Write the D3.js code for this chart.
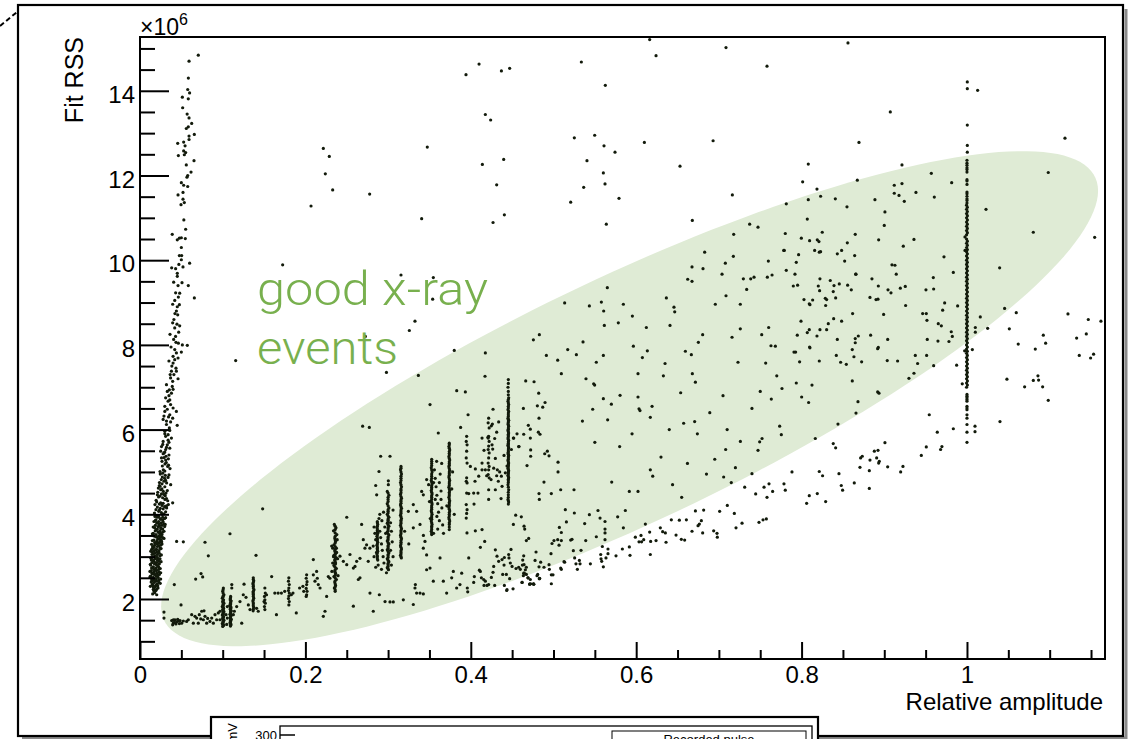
<!DOCTYPE html>
<html><head><meta charset="utf-8">
<script src="https://cdn.jsdelivr.net/npm/d3@7"></script>
<style>
html,body{margin:0;padding:0;background:#fff;}
svg{display:block;}
text{font-family:"Liberation Sans",Arial,Helvetica,sans-serif;}
</style></head><body>
<svg id="chart" width="1134" height="739"></svg>
<script>
// Fit RSS (in units of 1e6) versus relative pulse amplitude.

// Axis ticks
const xMajorTicks = [0, 0.2, 0.4, 0.6, 0.8, 1];
const xTickLabels = ["0", "0.2", "0.4", "0.6", "0.8", "1"];
const xMinorTicks = [0.05,0.1,0.15,0.25,0.3,0.35,0.45,0.5,0.55,0.65,0.7,0.75,0.85,0.9,0.95,1.05,1.1,1.15];
const yMajorTicks = [2, 4, 6, 8, 10, 12, 14];
const yTickLabels = ["2", "4", "6", "8", "10", "12", "14"];
const yMinorTicks = [1,1.5,2.5,3,3.5,4.5,5,5.5,6.5,7,7.5,8.5,9,9.5,10.5,11,11.5,12.5,13,13.5,14.5,15];

// Steep pile-up branch at low amplitude
const pileupPoints = [
[0.0705,14.84],[0.0593,14.70],[0.0577,14.03],[0.0512,13.85],[0.0584,13.81],[0.0516,13.60],[0.0593,13.36],[0.0625,13.23],[0.0584,13.15],[0.0560,13.11],
[0.0657,12.97],[0.0593,12.93],[0.0593,12.85],[0.0528,12.79],[0.0456,12.76],[0.0528,12.58],[0.0552,12.54],[0.0464,12.47],[0.0536,12.49],[0.0653,12.35],
[0.0617,12.08],[0.0577,12.00],[0.0568,11.96],[0.0500,11.83],[0.0528,11.77],[0.0577,11.74],[0.0460,11.54],[0.0520,11.44],[0.0536,11.36],[0.0496,11.31],
[0.0552,10.73],[0.0390,10.61],[0.0500,10.53],[0.0476,10.52],[0.0451,10.48],[0.0548,10.51],[0.0476,10.11],[0.0504,10.11],[0.0500,10.01],[0.0600,9.93],
[0.0383,9.82],[0.0431,9.80],[0.0520,9.84],[0.0451,9.69],[0.0451,9.62],[0.0407,9.48],[0.0508,9.47],[0.0584,9.40],[0.0480,9.22],[0.0431,9.23],
[0.0657,9.11],[0.0464,9.13],[0.0395,8.96],[0.0476,8.95],[0.0451,8.90],[0.0423,8.74],[0.0456,8.71],[0.0395,8.52],[0.0447,8.49],[0.0480,8.45],
[0.0420,8.40],[0.0468,8.30],[0.0363,8.25],[0.0407,8.13],[0.0435,8.06],[0.0464,8.04],[0.0512,8.00],[0.0572,7.99],
[0.042,7.89],[0.044,7.81],[0.050,7.83],[0.040,7.73],[0.046,7.69],[0.040,7.57],[0.0435,7.45],[0.038,7.38],[0.044,7.38],[0.041,7.30],
[0.037,7.22],[0.0395,7.14],[0.032,7.06],[0.0355,6.94],[0.038,6.86],[0.031,6.75],[0.034,6.67],[0.037,6.59],[0.040,6.51],[0.044,6.43],
[0.030,6.43],[0.036,6.35],[0.0395,6.27],[0.028,6.24],[0.032,6.12],[0.0355,6.04],[0.030,5.96],[0.034,5.88],[0.038,5.80],[0.028,5.72],
[0.033,5.64],[0.036,5.56],[0.031,5.53],[0.026,5.60],[0.035,7.62],[0.039,7.02],[0.035,6.80],[0.033,6.48],[0.029,6.32],[0.037,6.18],
[0.031,5.84],[0.035,5.70],[0.029,5.45],[0.046,7.20],[0.045,6.10],
[0.025,5.49],[0.028,5.43],[0.0314,5.37],[0.0343,5.31],[0.0266,5.25],[0.0302,5.19],[0.0335,5.13],[0.0363,5.08],[0.0242,5.01],[0.0274,4.97],
[0.0306,4.92],[0.0339,4.87],[0.0258,4.82],[0.029,4.78],[0.0322,4.74],[0.0371,4.70],[0.0234,4.68],[0.0290,5.34],[0.0318,5.22],[0.0282,5.05],
[0.0298,4.85],[0.0266,4.72],
[0.0222,4.62],[0.025,4.58],[0.0282,4.54],[0.0314,4.50],[0.021,4.46],[0.0242,4.43],[0.0274,4.39],[0.0302,4.35],[0.0335,4.32],[0.0202,4.29],
[0.0234,4.24],[0.0266,4.21],[0.0298,4.18],[0.0322,4.15],[0.0193,4.11],[0.0226,4.07],[0.0258,4.04],[0.029,4.01],[0.0242,4.66],[0.0343,4.23],
[0.0181,4.23],[0.026,4.48],[0.028,4.26],[0.0245,4.14],[0.0305,4.44],[0.0395,4.27],
[0.0181,3.95],[0.0226,3.95],[0.0274,3.93],[0.021,3.93],[0.0242,3.90],[0.0298,3.90],[0.0274,3.87],[0.0193,3.87],[0.0169,3.83],[0.0226,3.83],
[0.0258,3.80],[0.0202,3.80],[0.0234,3.77],[0.0290,3.77],[0.0266,3.74],[0.0185,3.74],[0.0298,3.71],[0.0218,3.71],[0.0177,3.68],[0.0250,3.68],
[0.021,3.65],[0.0274,3.65],[0.0242,3.61],[0.0185,3.61],[0.0274,3.58],[0.0218,3.58],[0.0161,3.55],[0.0250,3.55],[0.0193,3.52],[0.0266,3.52],
[0.0226,3.49],[0.0169,3.49],[0.0258,3.46],[0.0202,3.46],[0.0290,3.43],[0.0234,3.43],[0.0169,3.39],[0.0258,3.39],[0.0202,3.36],[0.0242,3.36],
[0.0234,3.33],[0.0177,3.33],[0.0266,3.30],[0.0210,3.30],[0.0177,3.27],[0.0250,3.27],[0.021,3.24],[0.0153,3.24],[0.0242,3.20],[0.0153,3.20],
[0.0443,3.36],
[0.0141,3.17],[0.0200,3.17],[0.0169,3.14],[0.0230,3.14],[0.0202,3.11],[0.0145,3.11],[0.0234,3.08],[0.0180,3.08],[0.0145,3.05],[0.0210,3.05],
[0.0177,3.02],[0.0240,3.02],[0.021,2.98],[0.0150,2.98],[0.0242,2.95],[0.0185,2.95],[0.0137,2.92],[0.0210,2.92],[0.0169,2.89],[0.0230,2.89],
[0.0202,2.86],[0.0145,2.86],[0.0234,2.83],[0.0175,2.83],[0.0129,2.80],[0.0200,2.80],[0.0161,2.76],[0.0225,2.76],[0.0193,2.73],[0.0140,2.73],
[0.0226,2.70],[0.0170,2.70],[0.0137,2.67],[0.0200,2.67],[0.0169,2.64],[0.0230,2.64],[0.0202,2.61],[0.0145,2.61],[0.0234,2.58],[0.0175,2.58],
[0.0129,2.54],[0.0195,2.54],[0.0161,2.51],[0.0220,2.51],[0.0193,2.48],[0.0140,2.48],[0.0226,2.45],[0.0165,2.45],[0.0141,2.42],[0.0200,2.42],
[0.0173,2.39],[0.0230,2.39],[0.0206,2.35],[0.0150,2.35],[0.0153,2.32],[0.0190,2.32],[0.0185,2.29],[0.0160,2.29],[0.0218,2.26],[0.0170,2.26],
[0.0161,2.23],[0.0200,2.23],[0.0193,2.20],[0.0165,2.20],[0.0177,2.15],[0.0153,2.12],[0.0202,2.10],[0.0180,2.18],
[0.0125,2.30],[0.0215,2.31],[0.0245,2.37],[0.0135,2.40],[0.0185,2.44],[0.0250,2.47],[0.0120,2.52],[0.0210,2.56],[0.0150,2.59],[0.0250,2.62],
[0.0120,2.65],[0.0185,2.68],[0.0245,2.72],[0.0155,2.75],[0.0215,2.78],[0.0125,2.82],[0.0190,2.85],[0.0255,2.88],[0.0160,2.91],[0.0225,2.94],
[0.0130,2.97],[0.0195,3.00],[0.0258,3.04],[0.0160,3.07],[0.0220,3.10],[0.0130,3.13],[0.0190,3.16],[0.0255,3.19],[0.0170,3.22],[0.0228,3.26],
[0.0140,3.29],[0.0200,3.32],[0.0262,3.35],[0.0150,3.38],[0.0215,3.41],[0.0275,3.45],[0.0185,3.48],[0.0245,3.51],[0.0150,3.54],[0.0230,3.57],
[0.0290,3.60],[0.0195,3.63],[0.0255,3.66],[0.0160,3.70],[0.0235,3.73],[0.0305,3.76],[0.0210,3.79],[0.0280,3.82],[0.0185,3.85],[0.0250,3.88],
[0.0310,3.92],[0.0210,3.97],[0.0270,4.00],[0.0175,4.03],[0.0310,4.06],[0.0235,4.10],[0.0280,4.13],[0.0210,4.17],[0.0320,4.20],[0.0250,4.27],
[0.0195,4.33],[0.0320,4.37],[0.0225,4.41],[0.0290,4.47],[0.0215,4.52],[0.0330,4.56],[0.0265,4.60],[0.0300,4.65],[0.0235,4.75],[0.0310,4.80],
[0.0270,4.88],[0.0350,4.93],[0.0245,4.95],[0.0300,5.02],[0.0345,5.16],[0.0270,5.14],[0.0310,5.28],[0.0260,5.33],[0.0350,5.40],[0.0300,5.47],
[0.0320,5.58],[0.0275,5.65],[0.0340,5.75],[0.0300,5.90],[0.0360,5.98],[0.0320,6.20],[0.0345,6.30],[0.0300,6.55],[0.0360,6.70],[0.0330,6.90],
[0.0400,6.95],[0.0365,7.30],[0.0385,7.50],[0.0420,7.65],[0.0375,7.95],[0.0430,8.20],[0.0410,8.60],[0.0440,8.80],[0.0420,9.05],[0.0460,9.40],
[0.0470,9.90],[0.0500,10.30],[0.0530,10.95],[0.0520,11.60],[0.0560,12.25],[0.0545,12.70],[0.0570,13.45],[0.0600,13.95],[0.0585,14.30]
];

// Lower branch: single-photon events with vertical streaks
const lowBandPoints = [
[0.029,1.69],[0.029,1.55],[0.0383,1.49],[0.0403,1.43],[0.0423,1.51],[0.0443,1.46],[0.0464,1.48],[0.0484,1.49],[0.0504,1.43],[0.0395,1.39],
[0.0435,1.41],[0.0476,1.42],[0.0403,1.51],[0.0524,1.48],[0.0456,1.52],[0.0415,1.45],
[0.0584,1.51],[0.0625,1.63],[0.0645,1.43],[0.0685,1.55],[0.0717,1.63],[0.0746,1.71],[0.0766,1.51],[0.0786,1.59],[0.0806,1.43],[0.0846,1.47],
[0.0867,1.55],[0.0907,1.63],[0.0927,1.51],[0.0564,1.47],[0.0665,1.59],[0.0705,1.43],[0.0734,1.53],[0.0774,1.72],[0.0818,1.54],[0.0887,1.43],
[0.0947,1.67],[0.0967,1.51],
[0.1008,2.26],[0.1000,2.18],[0.1015,2.10],[0.1005,2.05],[0.0995,2.02],[0.1010,1.98],[0.1000,1.94],[0.1015,1.90],[0.1005,1.86],[0.0995,1.82],
[0.1010,1.78],[0.1000,1.74],[0.1015,1.70],[0.1005,1.66],[0.0995,1.62],[0.1010,1.58],[0.1000,1.54],[0.1015,1.50],[0.1005,1.46],[0.0995,1.42],
[0.1010,1.38],[0.1000,1.35],
[0.1096,2.06],[0.1090,2.00],[0.1102,1.95],[0.1094,1.90],[0.1086,1.85],[0.1100,1.80],[0.1092,1.76],[0.1104,1.72],[0.1096,1.68],[0.1088,1.64],
[0.1100,1.60],[0.1092,1.56],[0.1104,1.52],[0.1096,1.48],[0.1088,1.44],[0.1100,1.40],[0.1094,1.36],
[0.0967,1.71],[0.1056,1.82],[0.104,1.63],[0.1141,1.71],[0.1129,1.63],[0.111,2.34],[0.111,2.26],[0.1169,1.82],[0.1209,1.94],[0.1249,2.10],
[0.1258,2.35],[0.1282,2.04],[0.131,1.86],[0.133,1.75],[0.123,1.43],[0.1056,1.55],[0.1048,1.40],
[0.137,2.50],[0.1375,2.43],[0.1365,2.36],[0.137,2.30],[0.1378,2.22],[0.1368,2.15],[0.137,2.10],[0.1375,2.02],[0.1365,1.95],[0.137,1.88],
[0.1375,1.80],[0.1368,1.72],[0.141,1.78],[0.143,1.71],
[0.151,2.26],[0.1515,2.14],[0.1505,2.06],[0.151,1.98],[0.1515,1.90],[0.1505,1.82],[0.151,1.75],[0.150,1.94],[0.153,2.10],
[0.1592,2.53],[0.165,1.63],[0.163,2.14],[0.167,2.14],[0.171,2.14],[0.175,2.18],
[0.180,2.50],[0.1795,2.42],[0.1805,2.34],[0.180,2.26],[0.1795,2.20],[0.1805,2.14],[0.180,2.07],[0.1795,2.01],[0.1805,1.94],[0.180,1.86],
[0.183,2.10],[0.185,2.14],[0.189,1.67],[0.193,2.26],[0.197,2.30],[0.198,2.18],
[0.2015,2.57],[0.2010,2.49],[0.2020,2.41],[0.2015,2.34],[0.2010,2.25],[0.2020,2.18],[0.2015,2.10],[0.2010,2.06],
[0.2096,2.93],[0.2096,2.57],[0.2116,2.42],[0.2136,2.65],[0.2144,2.49],[0.2156,2.34],[0.2177,2.26],[0.2217,1.59],[0.2237,1.71],[0.2257,2.06],
[0.2277,2.53],[0.2297,2.49],
[0.2350,3.76],[0.2370,3.68],[0.2340,3.61],[0.2380,3.52],[0.2355,3.44],[0.2365,3.36],[0.2345,3.28],[0.2375,3.20],[0.2355,3.14],[0.2365,3.08],
[0.2345,3.03],[0.2375,2.97],[0.2355,2.91],[0.2365,2.85],[0.2345,2.79],[0.2375,2.72],[0.2355,2.66],[0.2365,2.60],[0.2345,2.53],[0.2375,2.46],
[0.2355,2.40],[0.2365,2.32],[0.2350,2.26],[0.2360,2.18],[0.2330,3.20],[0.2340,3.00],[0.2330,2.85],[0.2320,2.65],[0.2385,3.40],[0.2390,2.95],
[0.2395,2.55],[0.2318,3.25],[0.2378,3.10],
[0.25,3.93],[0.2418,3.01],[0.2459,2.89],[0.25,2.81],[0.2539,3.05],[0.258,2.73],[0.26,2.77],[0.262,2.89],[0.266,2.96],[0.268,3.76],
[0.27,3.40],[0.272,3.20],[0.274,3.28],[0.276,2.89],[0.278,3.20],[0.258,1.83],[0.266,2.50],[0.264,2.46],[0.2781,2.14],[0.2821,1.71],
[0.2894,2.10],[0.2963,1.94]
];

// Additional events along the cores of the vertical streaks
const streakCores = [
[0.1005,2.22],[0.1005,2.14],[0.1005,2.07],[0.1005,1.96],[0.1005,1.92],[0.1005,1.88],[0.1005,1.84],[0.1005,1.80],[0.1005,1.76],[0.1005,1.72],
[0.1005,1.68],[0.1005,1.64],[0.1005,1.60],[0.1005,1.56],[0.1005,1.52],[0.1005,1.48],[0.1005,1.44],[0.1005,1.40],[0.1005,1.37],
[0.1095,2.03],[0.1095,1.97],[0.1095,1.92],[0.1095,1.87],[0.1095,1.82],[0.1095,1.78],[0.1095,1.74],[0.1095,1.70],[0.1095,1.66],[0.1095,1.62],
[0.1095,1.58],[0.1095,1.54],[0.1095,1.50],[0.1095,1.46],[0.1095,1.42],[0.1095,1.38],
[0.137,2.46],[0.137,2.39],[0.137,2.33],[0.137,2.26],[0.137,2.18],[0.137,2.12],[0.137,2.06],[0.137,1.98],[0.137,1.91],[0.137,1.84],[0.137,1.76],
[0.2360,3.72],[0.2360,3.64],[0.2360,3.56],[0.2360,3.48],[0.2360,3.40],[0.2360,3.32],[0.2360,3.24],[0.2360,3.17],[0.2360,3.11],[0.2360,3.05],
[0.2360,3.00],[0.2360,2.94],[0.2360,2.88],[0.2360,2.82],[0.2360,2.75],[0.2360,2.69],[0.2360,2.63],[0.2360,2.56],[0.2360,2.50],[0.2360,2.43],
[0.2360,2.36],[0.2360,2.29],[0.2360,2.22],
[0.2870,3.80],[0.2870,3.72],[0.2870,3.65],[0.2870,3.58],[0.2870,3.51],[0.2870,3.44],[0.2870,3.37],[0.2870,3.30],[0.2870,3.23],[0.2870,3.16],
[0.2870,3.09],[0.2870,3.02],[0.2870,2.95],
[0.3000,4.50],[0.3000,4.40],[0.3000,4.30],[0.3000,4.20],[0.3000,4.11],[0.3000,4.03],[0.3000,3.96],[0.3000,3.89],[0.3000,3.82],[0.3000,3.75],
[0.3000,3.68],[0.3000,3.61],[0.3000,3.54],[0.3000,3.47],[0.3000,3.40],[0.3000,3.33],[0.3000,3.26],[0.3000,3.19],[0.3000,3.12],[0.3000,3.05],
[0.3000,2.98],[0.3000,2.91],[0.3000,2.84],[0.3000,2.77],[0.3000,2.71],
[0.3156,5.09],[0.3156,5.00],[0.3156,4.90],[0.3156,4.80],[0.3156,4.70],[0.3156,4.60],[0.3156,4.51],[0.3156,4.42],[0.3156,4.34],[0.3156,4.26],
[0.3156,4.18],[0.3156,4.10],[0.3156,4.02],[0.3156,3.94],[0.3156,3.86],[0.3156,3.78],[0.3156,3.70],[0.3156,3.62],[0.3156,3.54],[0.3156,3.46],
[0.3156,3.38],[0.3156,3.30],[0.3156,3.22],[0.3156,3.14],[0.3156,3.06],[0.3156,3.00],
[0.3527,5.25],[0.3527,5.15],[0.3527,5.05],[0.3527,4.95],[0.3527,4.85],[0.3527,4.76],[0.3527,4.68],[0.3527,4.60],[0.3527,4.52],[0.3527,4.44],
[0.3527,4.36],[0.3527,4.28],[0.3527,4.20],[0.3527,4.12],[0.3527,4.04],[0.3527,3.96],[0.3527,3.88],[0.3527,3.80],[0.3527,3.72],[0.3527,3.64],
[0.3527,3.56],
[0.3740,5.64],[0.3740,5.56],[0.3740,5.48],[0.3740,5.40],[0.3740,5.32],[0.3740,5.24],[0.3740,5.16],[0.3740,5.08],[0.3740,5.00],[0.3740,4.92],
[0.3740,4.84],[0.3740,4.76],[0.3740,4.68],[0.3740,4.60],[0.3740,4.52],[0.3740,4.44],[0.3740,4.36],[0.3740,4.28],[0.3740,4.20],[0.3740,4.12],
[0.3740,4.04],[0.3740,3.96],[0.3740,3.88],[0.3740,3.80],[0.3740,3.70],
[0.4454,7.09],[0.4454,6.90],[0.4454,6.82],[0.4454,6.63],[0.4454,6.51],[0.4454,6.39],[0.4454,6.31],[0.4454,6.24],[0.4454,6.17],[0.4454,6.11],
[0.4454,6.01],[0.4454,5.95],[0.4454,5.89],[0.4454,5.83],[0.4454,5.77],[0.4454,5.71],[0.4454,5.65],[0.4454,5.60],[0.4454,5.54],[0.4454,5.47],
[0.4454,5.42],[0.4454,5.36],[0.4454,5.30],[0.4454,5.24],[0.4454,5.19],[0.4454,5.12],[0.4454,5.06],[0.4454,5.00],[0.4454,4.95],[0.4454,4.89],
[0.4454,4.83],[0.4454,4.75],[0.4454,4.64],[0.4454,4.52],[0.4454,4.40],[0.4454,4.32]
];

// Dense groups between 0.28 and 0.45 relative amplitude
const clusterPoints = [
[0.2990,4.54],[0.3010,4.45],[0.3000,4.35],[0.2990,4.25],[0.3010,4.15],[0.3000,4.07],[0.2990,4.00],[0.3010,3.93],[0.3000,3.86],[0.2990,3.79],
[0.3010,3.72],[0.3000,3.65],[0.2990,3.58],[0.3010,3.51],[0.3000,3.44],[0.2990,3.37],[0.3010,3.30],[0.3000,3.23],[0.2990,3.16],[0.3010,3.09],
[0.3000,3.02],[0.2990,2.95],[0.3010,2.88],[0.3000,2.81],[0.2990,2.74],[0.3005,2.69],
[0.2870,3.83],[0.2875,3.76],[0.2865,3.69],[0.2870,3.62],[0.2875,3.55],[0.2865,3.48],[0.2870,3.41],[0.2875,3.34],[0.2865,3.27],[0.2870,3.20],
[0.2875,3.13],[0.2865,3.06],[0.2870,2.99],[0.2875,2.92],
[0.283,3.70],[0.284,3.55],[0.285,3.40],[0.286,3.10],[0.282,3.25],[0.290,3.60],[0.291,3.45],[0.292,3.30],[0.293,3.15],[0.294,3.00],
[0.295,2.85],[0.290,4.00],[0.2925,3.85],[0.296,3.70],[0.297,3.55],[0.303,3.80],[0.304,3.60],[0.305,3.35],[0.303,3.15],[0.306,3.00],
[0.304,2.80],[0.306,4.10],[0.288,2.80],[0.285,2.75],[0.292,2.70],[0.298,2.62],[0.283,3.00],[0.289,3.90],[0.2945,4.05],[0.285,4.68],
[0.2862,4.46],[0.289,5.01],[0.291,5.37],[0.3023,5.37],[0.3003,4.79],[0.3003,4.70],
[0.3156,5.13],[0.3150,5.05],[0.3162,4.95],[0.3156,4.85],[0.3150,4.75],[0.3162,4.65],[0.3156,4.56],[0.3150,4.47],[0.3162,4.38],[0.3156,4.30],
[0.3150,4.22],[0.3162,4.14],[0.3156,4.06],[0.3150,3.98],[0.3162,3.90],[0.3156,3.82],[0.3150,3.74],[0.3162,3.66],[0.3156,3.58],[0.3150,3.50],
[0.3162,3.42],[0.3156,3.34],[0.3150,3.26],[0.3162,3.18],[0.3156,3.10],[0.3150,3.03],[0.3160,2.97],
[0.3184,1.98],[0.3245,4.07],[0.3305,4.23],[0.3345,4.07],[0.3305,3.68],[0.3386,3.76],[0.3406,4.54],[0.3426,4.46],[0.3426,3.20],[0.3446,3.36],
[0.3466,3.04],[0.3305,1.87],[0.333,2.34],[0.3345,2.14],[0.3386,2.14],[0.3426,2.12],[0.3325,2.26],[0.3466,2.69],[0.3507,2.73],[0.3547,2.42],
[0.3628,2.97],[0.3769,2.50],[0.3789,2.65],[0.3829,2.26],[0.3869,2.34],[0.3668,2.42],[0.3708,2.14],[0.3890,2.61],[0.3023,1.93],[0.3063,1.93],
[0.3466,4.82],[0.3527,5.20],[0.3587,5.25],[0.3648,5.20],[0.3427,3.50],[0.3200,3.60],[0.3250,3.30],
[0.3527,5.30],[0.3522,5.10],[0.3532,5.00],[0.3527,4.90],[0.3522,4.80],[0.3532,4.72],[0.3527,4.64],[0.3522,4.56],[0.3532,4.48],[0.3527,4.40],
[0.3522,4.32],[0.3532,4.24],[0.3527,4.16],[0.3522,4.08],[0.3532,4.00],[0.3527,3.92],[0.3522,3.84],[0.3532,3.76],[0.3527,3.68],[0.3522,3.60],
[0.3527,3.52],
[0.356,5.05],[0.357,4.85],[0.358,4.65],[0.359,4.45],[0.360,4.25],[0.361,4.05],[0.362,3.85],[0.360,3.65],[0.363,4.95],[0.364,4.55],
[0.365,4.15],[0.366,3.75],[0.349,4.70],[0.350,4.30],[0.351,3.90],[0.355,4.75],[0.357,4.35],[0.359,3.95],[0.362,4.75],[0.364,4.35],
[0.367,3.55],[0.355,3.55],[0.3507,6.59],[0.3607,5.92],
[0.3740,5.68],[0.3735,5.60],[0.3745,5.52],[0.3740,5.44],[0.3735,5.36],[0.3745,5.28],[0.3740,5.20],[0.3735,5.12],[0.3745,5.04],[0.3740,4.96],
[0.3735,4.88],[0.3745,4.80],[0.3740,4.72],[0.3735,4.64],[0.3745,4.56],[0.3740,4.48],[0.3735,4.40],[0.3745,4.32],[0.3740,4.24],[0.3735,4.16],
[0.3745,4.08],[0.3740,4.00],[0.3735,3.92],[0.3745,3.84],[0.3740,3.76],[0.3740,3.64],
[0.378,5.00],[0.377,4.60],[0.371,4.20],[0.380,4.00],
[0.3950,5.84],[0.3945,5.72],[0.3955,5.64],[0.3950,5.49],[0.3945,5.33],[0.3955,5.21],[0.3950,4.86],[0.3945,4.78],[0.3955,4.74],[0.3950,4.50],
[0.3945,4.23],[0.3955,4.11],[0.3950,4.02],[0.3945,3.91],
[0.4216,6.27],[0.4210,6.16],[0.4222,6.04],[0.4216,5.84],[0.4210,5.80],[0.4222,5.72],[0.4216,5.61],[0.4210,5.53],[0.4222,5.45],[0.4216,5.33],
[0.4210,5.21],[0.4222,5.13],[0.4216,5.05],[0.4210,4.94],[0.4222,4.86],[0.4216,4.58],[0.4216,4.35],
[0.4454,7.18],[0.4450,7.00],[0.4458,6.75],[0.4454,6.71],[0.4450,6.67],[0.4458,6.59],[0.4454,6.55],[0.4450,6.47],[0.4458,6.43],[0.4454,6.35],
[0.4450,6.27],[0.4458,6.22],[0.4454,6.20],[0.4450,6.13],[0.4458,6.08],[0.4454,6.04],[0.4450,5.98],[0.4458,5.92],[0.4454,5.86],[0.4450,5.80],
[0.4458,5.74],[0.4454,5.68],[0.4450,5.63],[0.4458,5.57],[0.4454,5.50],[0.4450,5.45],[0.4458,5.39],[0.4454,5.33],[0.4450,5.27],[0.4458,5.21],
[0.4454,5.16],[0.4450,5.09],[0.4458,5.03],[0.4454,4.98],[0.4450,4.92],[0.4458,4.86],[0.4454,4.79],[0.4450,4.70],[0.4458,4.58],[0.4454,4.46],
[0.4450,4.35],[0.4458,4.29],[0.4454,4.24],
[0.4269,6.48],[0.4249,6.09],[0.4261,6.13],[0.4337,6.18],[0.4313,5.94],[0.4136,5.80],[0.4208,5.82],[0.416,5.51],[0.4289,5.79],[0.4257,5.64],
[0.4265,5.54],[0.4297,5.32],[0.4136,5.05],[0.4096,4.90],[0.4055,5.07],[0.3995,5.13],[0.4051,4.78],[0.3975,4.49],[0.4035,4.50],[0.4087,4.50],
[0.4039,4.24],[0.4297,4.58],[0.4366,4.37],[0.4378,4.66],[0.4321,5.05],[0.4277,5.09],[0.4245,4.82],[0.4192,4.91],[0.4313,4.91],[0.4349,5.00],
[0.4438,5.14],[0.4402,5.39],[0.4491,5.53],[0.4519,5.80],[0.4559,5.90],[0.4579,5.60],[0.4370,4.90],[0.4418,4.98],[0.4333,4.78],[0.4176,5.05],
[0.4136,5.21],
[0.4176,7.81],[0.4172,7.26],[0.3934,6.89],[0.3967,6.35],[0.4055,3.61],[0.3954,3.56],[0.4136,3.64],[0.4116,3.22],[0.4168,3.36],[0.3975,2.97],
[0.4297,3.16],[0.4317,3.01],[0.4337,2.89],[0.4277,2.77],[0.4249,2.51],[0.4269,2.63],[0.4289,2.32],[0.4216,2.34],[0.4176,2.42],[0.4156,2.46],
[0.4128,2.50],[0.416,2.32],[0.4196,2.32],[0.4104,2.68],[0.4116,2.65],[0.4043,2.53],[0.4035,2.39],[0.3958,2.26],[0.3963,2.17],
[0.464,3.02],[0.4628,2.92],[0.4624,2.80],[0.4644,2.81],[0.4672,2.75],[0.466,2.69],[0.4648,2.61],[0.4672,2.58],[0.4636,2.55],[0.4720,2.46],
[0.4757,2.36],[0.4801,2.55],[0.4833,2.49],[0.4809,2.58],[0.4579,2.75],[0.4599,2.70],[0.4547,2.72],[0.4499,2.77],[0.4478,2.85],[0.4486,3.17],
[0.4458,3.05],[0.4462,2.97],[0.4406,2.98],[0.4378,2.93],[0.4386,2.58],[0.4430,2.58],[0.4438,2.22],[0.4511,2.24],[0.4406,2.32],[0.4470,2.48],
[0.4402,2.80],[0.4434,2.20],
[0.4611,3.94],[0.4644,3.72],[0.4652,3.65],[0.4672,3.38],[0.47,3.43],[0.4543,3.98],[0.4515,3.76],[0.4789,3.11],[0.4777,2.91],[0.4845,2.87],
[0.4825,2.76],[0.4885,2.75],[0.4692,2.50],[0.462,2.39],[0.4712,2.35],[0.4761,2.35],[0.4829,2.48]
];

// Events at full relative amplitude
const unitAmplitudePoints = [
[1.0004,14.21],[1.0004,14.05],[1.0129,14.01],[1.0004,13.19],[1.0004,12.71],[1.0004,12.55],
[1.0,12.36],[1.0,12.29],[1.0,12.24],[1.0,12.18],[1.0,12.14],[1.0,12.08],[1.0,11.90],[1.0,11.87],[1.0,11.79],[1.0,11.61],
[1.0,11.57],[1.0,11.51],[1.0,11.45],[1.0,11.41],[1.0,11.35],
[0.9995,11.30],[1.0005,11.25],[0.9995,11.20],[1.0005,11.15],[0.9995,11.10],[1.0005,11.05],[0.9995,11.00],[1.0005,10.95],[0.9995,10.90],[1.0005,10.85],
[0.9995,10.80],[1.0005,10.75],[0.9995,10.70],[1.0005,10.65],[0.9995,10.60],[0.9976,10.55],[0.9995,10.50],[1.0005,10.45],[0.9995,10.40],[1.0005,10.35],
[0.9995,10.30],[0.9976,10.23],[1.0005,10.25],[0.9995,10.20],[1.0005,10.15],[0.9995,10.10],[1.0005,10.05],[0.9995,10.00],[1.0005,9.95],[0.9995,9.90],
[1.0005,9.85],[0.9995,9.80],[1.0005,9.75],[0.9995,9.70],[1.0005,9.65],[0.9995,9.60],[1.0005,9.55],[0.9995,9.50],[1.0005,9.45],[0.9995,9.40],
[1.0005,9.35],[0.9995,9.30],[1.0005,9.25],[0.9995,9.20],[1.0005,9.15],[0.9995,9.10],[1.0005,9.05],[0.9995,9.00],[1.0005,8.95],[0.9995,8.90],
[1.0005,8.85],[0.9995,8.80],[1.0005,8.75],[0.9995,8.70],[1.0005,8.65],[0.9995,8.60],[1.0005,8.55],[0.9995,8.50],[1.0005,8.45],[0.9995,8.40],
[1.0005,8.35],[0.9995,8.30],[1.0005,8.25],[0.9995,8.20],[1.0005,8.15],[0.9995,8.10],[1.0005,8.05],[0.9995,8.00],[1.0005,7.95],[0.9995,7.90],
[1.0005,7.85],[0.9995,7.80],[1.0005,7.75],[0.9995,7.70],[1.0005,7.65],[0.9995,7.60],[1.0005,7.55],[0.9995,7.50],[1.0005,7.45],[0.9995,7.40],
[1.0005,7.35],[0.9995,7.30],[1.0005,7.25],[0.9995,7.20],[1.0005,7.15],[0.9995,7.10],[1.0005,7.05],[0.9995,7.00],
[1.0,6.83],[1.0,6.79],[1.0,6.75],[1.0,6.71],[1.0,6.67],[1.0,6.55],[1.0,6.51],[1.0,6.47],[1.0,6.35],[1.0,6.27],[1.0,6.12],[1.0,5.94],[1.0,5.70]
];

// Diffuse events spread across the plane
const spreadPoints = [
[0.2217,12.64],[0.2289,12.45],[0.2241,12.04],[0.2330,11.66],[0.2068,11.28],[0.2777,11.56],[0.3474,12.67],[0.3406,10.98],[0.1725,9.89],[0.3156,9.65],
[0.3547,9.59],[0.3539,9.08],[0.3325,8.56],[0.3257,8.34],[0.2725,8.20],
[0.3942,14.38],[0.4100,14.63],[0.4370,14.47],[0.4470,14.53],[0.5337,14.68],[0.5627,14.13],[0.6163,15.21],[0.6240,14.83],[0.7086,15.02],[0.7582,14.58],
[0.4176,13.44],[0.4240,13.31],[0.5252,12.89],[0.5498,12.95],[0.5611,12.70],[0.5744,12.55],[0.6099,12.78],[0.6930,12.82],[0.5405,12.35],[0.4140,12.26],
[0.4398,12.38],[0.5603,12.06],[0.5623,11.80],[0.5365,11.72],[0.6530,12.22],[0.4313,11.78],[0.5208,11.37],[0.5792,11.46],[0.7163,11.54],[0.4406,11.07],
[0.4269,10.89],[0.5639,10.85],[0.6679,10.94],[0.7372,10.85],[0.7473,10.78],[0.7179,10.61],[0.6828,10.19],[0.7784,10.23],[0.7175,10.09],[0.7078,9.93],
[0.6675,9.84],[0.6808,9.80],[0.7598,9.98],[0.7038,9.67],[0.7296,9.56],[0.7385,9.56],[0.7425,9.60],[0.7586,9.60],[0.7643,9.65],[0.6623,9.55],
[0.6675,9.50],[0.7336,9.31],[0.5651,9.35],[0.5135,8.99],[0.5434,8.92],[0.5579,9.01],[0.5607,8.80],[0.5845,8.96],[0.6365,9.11],[0.6457,8.89],
[0.6466,8.78],[0.5954,8.68],[0.5784,8.52],[0.5615,8.46],[0.6123,8.41],[0.6409,8.46],[0.6957,8.96],[0.7086,9.16],[0.7259,8.96],[0.6804,8.24],
[0.6752,8.06],[0.7259,8.38],[0.7159,8.18],[0.7518,8.24],[0.7602,8.41],[0.7630,7.98],[0.7683,7.97],[0.4757,8.12],[0.4829,8.24],[0.5357,8.07],
[0.5966,7.97],
[0.8561,15.13],[0.9073,13.50],[1.1185,12.88],[0.8694,12.78],[0.8081,12.27],[0.9214,12.25],[0.9569,12.05],[0.9815,11.83],[0.8013,11.85],[0.8674,11.89],
[0.8186,11.68],[0.9121,11.77],[0.9214,11.81],[0.9121,11.58],[0.9178,11.53],[0.9242,11.39],[0.9383,11.60],[0.9605,11.49],[0.7815,11.33],[0.8081,11.43],
[0.8230,11.51],[0.8408,11.45],[0.8549,11.26],[0.8887,11.43],[0.9008,11.14],[0.9000,10.82],[1.0230,11.20],[0.8069,10.97],[0.7803,10.63],[0.7997,10.52],
[0.8097,10.46],[0.8190,10.48],[0.8210,10.44],[0.8250,10.66],[0.8553,10.41],[0.8649,10.61],[0.8932,10.48],[0.9359,10.49],[0.9230,10.33],[1.0802,10.66],
[1.1544,10.54],[0.7791,10.23],[0.7964,10.13],[0.7936,9.95],[0.7920,9.67],[0.7815,9.76],[0.8158,10.23],[0.8214,10.19],[0.8230,10.20],[0.8432,10.15],
[0.8484,10.23],[0.8521,9.98],[0.8642,10.11],[0.8658,9.67],[0.9093,9.89],[0.9129,9.88],[0.9145,9.67],[0.8851,9.56],[0.8222,9.56],[0.8347,9.52],
[0.8456,9.44],[0.8557,9.41],[0.8601,9.30],[0.7900,9.39],[0.7952,9.41],[0.8202,9.39],[0.8218,9.28],[0.8392,9.40],[0.8383,9.26],[0.8412,9.11],
[0.8287,9.10],[0.8303,9.07],[0.8029,9.07],[0.8134,9.06],[0.8093,8.97],[0.8101,8.95],[0.8291,8.93],[0.8928,9.39],[0.9045,9.30],[0.9081,9.23],
[0.9194,9.34],[0.9254,9.38],[0.8827,9.12],[0.8900,9.07],[0.8924,9.08],[0.8654,9.67],[0.8617,8.74],[0.9593,9.59],[0.9597,9.32],[0.9504,9.30],
[0.9722,10.08],[0.9835,9.71],[0.9258,8.93],[0.8992,8.72],[0.9464,8.74],[0.9508,8.74],[0.9516,8.58],[0.9706,8.82],[0.9730,8.99],[0.9887,8.92],
[0.9653,8.50],[0.9690,8.45],[0.9810,8.31],[0.9823,8.20],[0.9782,8.08],[0.9520,8.13],[0.9649,8.09],[0.9041,8.13],[0.8835,8.23],[0.8928,7.94],
[0.8649,8.15],[0.8649,8.05],[0.8686,8.21],[0.8432,8.13],[0.8303,8.36],[0.8222,8.36],[0.8186,8.21],[0.8093,8.36],[0.8069,8.29],[0.8097,7.95],
[0.7948,8.23],[0.7993,8.56],[0.8323,8.50],[0.8388,8.62],[0.8484,8.56],
[1.0161,8.66],[1.0101,8.41],[1.0101,8.30],[1.0250,8.39],[1.0455,8.86],[1.0395,9.82],[1.0596,8.76],[1.0512,8.38],[1.0620,8.02],[1.0923,8.23],
[1.0951,8.04],[1.1221,8.73],[1.1467,8.60],[1.1620,8.56],[1.1326,8.16],[1.1443,8.26],[1.0983,12.07],
[0.7908,7.83],[0.7928,7.83],[0.8101,7.93],[0.7976,7.60],[0.8214,7.62],[0.8420,7.75],[0.8472,7.59],[0.8541,7.54],[0.8613,7.89],[0.8633,7.72],
[0.8726,7.60],[0.8920,7.91],[0.9036,7.63],[0.9161,7.62],[0.9375,7.75],[0.9403,7.56],[0.9512,7.75],[0.9597,7.51],[0.9359,7.33],[0.9298,7.21],
[0.8613,7.15],[0.7936,7.10],[0.8126,7.05],[0.8001,6.77],[0.8085,6.64],[0.8682,6.66],[0.8920,6.89],[0.8936,6.86],[0.8658,6.39],[0.8440,6.13],
[0.8166,5.79],
[1.0065,7.89],[0.9972,7.86],[0.9943,7.08],[0.9875,7.52],[1.0826,7.90],[1.1358,7.75],[1.1495,7.69],[1.1531,7.78],[1.0483,7.19],[1.0802,7.16],
[1.0858,7.27],[1.0866,7.17],[1.0697,7.01],[1.0915,7.01],[1.0983,6.69],[1.0399,6.19],[1.0097,6.08],[1.0097,5.95],[0.9835,6.02],[0.9641,5.94],
[0.9544,6.35],[0.9508,5.59],[0.9448,5.39],[0.9681,5.53],[0.9697,5.60],
[0.4914,7.75],[0.5051,7.64],[0.5172,7.89],[0.5277,7.77],[0.5095,7.32],[0.5518,7.59],[0.5603,7.75],[0.5393,7.20],[0.5486,7.08],[0.5498,7.05],
[0.5603,6.73],[0.5474,6.48],[0.5655,6.23],[0.5805,6.81],[0.6135,7.86],[0.6075,7.70],[0.6022,7.32],[0.6349,7.56],[0.6595,7.85],[0.6667,7.77],
[0.6329,7.27],[0.6679,7.32],[0.6716,7.12],[0.6538,6.87],[0.6022,6.77],[0.6034,6.49],[0.6046,6.45],[0.6192,6.55],[0.6171,6.29],[0.7231,7.59],
[0.7566,7.57],[0.7700,7.27],[0.7763,6.97],[0.7634,6.72],[0.7735,6.08],[0.7755,5.88],[0.6574,6.15],[0.6707,6.19],[0.6740,5.90],[0.7260,5.72],
[0.7493,5.71],[0.7522,5.79],[0.7473,5.51],[0.7082,5.53],[0.6171,5.05],[0.6111,3.77],[0.5869,4.09],[0.5917,4.54],[0.5845,3.68],[0.5776,3.94],
[0.5704,4.76],[0.5623,3.83],[0.5623,3.65],[0.5623,3.56],[0.5623,3.40],[0.5538,4.09],[0.5563,3.91],[0.5518,3.47],[0.5434,3.99],[0.5377,3.78],
[0.5390,3.38],[0.5333,3.15],[0.5313,2.91],[0.5256,2.97],[0.5248,4.58],[0.5252,4.03],[0.5127,2.88],[0.4950,2.70],[0.4946,2.81],[0.4970,3.07],
[0.4982,3.31],[0.5006,3.38],[0.5051,3.40],[0.5067,3.27],[0.5095,3.38],[0.5071,3.69],[0.5095,3.57],[0.5143,4.11],[0.5156,3.82],[0.5055,5.23],
[0.5055,5.00],[0.5087,4.58],[0.4974,4.49],[0.5208,3.39],[0.5224,3.41],[0.5240,3.14],[0.4885,4.76],[0.4825,4.49],[0.4829,4.35],[0.4724,5.52],
[0.4724,5.37],[0.4680,5.15],[0.4720,5.80],[0.4720,6.01],[0.4640,5.89],[0.4696,6.10],[0.4636,6.50],[0.4664,7.15],[0.4765,7.13],[0.4821,6.86],
[0.4805,6.56],[0.4870,6.53],[0.4898,6.64],[0.4825,6.27],[0.4817,5.94],[0.4837,5.89],[0.4894,5.43],[0.4926,5.49],[0.4946,5.38],[0.4583,5.60],
[0.4515,5.80],[0.5917,3.23],[0.5925,3.03],[0.5833,3.18],[0.5756,3.02],[0.6065,3.35],
[0.6022,4.54],[0.6200,4.90],[0.6440,4.70],[0.6620,5.20],[0.6850,4.95],[0.6300,5.35],[0.6550,4.40],[0.6950,5.30],[0.7200,5.10],[0.6400,6.00],
[0.6890,6.40],[0.7100,6.00],[0.5800,5.60],[0.5500,5.70],[0.5950,5.90],[0.5350,6.20],[0.5700,6.60],[0.7400,6.50],[0.7500,6.90],[0.7050,6.80],
[0.1157,7.63],[0.298,7.35],[0.3366,7.28],[0.380,7.87],[0.383,6.92],[0.3877,6.05],[0.2692,6.08],[0.2773,6.05],[0.1483,4.13],[0.1088,3.54],
[0.0524,3.35],[0.0786,3.34],[0.0826,3.02],[0.1403,3.03],[0.0738,2.60],[0.0758,2.52],[0.0673,2.47],[0.0415,2.34],[0.0496,1.86]
];

// Lower-right band below the main population
const tailPoints = [
[0.4620,2.39],[0.4712,2.35],[0.4724,2.36],[0.4761,2.35],[0.4692,2.50],[0.4640,2.61],[0.4829,2.48],[0.4974,2.57],[0.4994,2.57],[0.4974,2.36],
[0.5087,2.73],[0.5095,2.70],[0.5135,2.87],[0.5272,2.83],[0.5289,2.70],[0.5321,2.83],[0.5446,2.83],[0.5571,3.05],[0.5575,2.95],[0.5583,2.89],
[0.5603,2.76],[0.5635,2.97],[0.5659,3.07],[0.5659,3.18],[0.5591,3.24],[0.5990,3.46],[0.6034,3.35],[0.6058,3.50],[0.6091,3.40],[0.6163,3.58],
[0.6175,3.36],[0.6240,3.38],[0.6292,3.68],[0.6320,3.59],[0.6353,3.56],[0.6361,3.34],[0.6425,3.87],[0.6482,3.51],[0.6522,3.86],[0.6546,3.41],
[0.6586,3.39],[0.6607,3.87],[0.6675,3.60],[0.6716,4.08],[0.6764,3.77],[0.6748,3.73],[0.6788,3.85],[0.6804,3.56],[0.6816,4.10],[0.6937,3.61],
[0.6977,3.55],[0.6981,3.46],[0.7009,4.07],[0.7102,4.21],[0.7187,4.02],[0.7207,3.68],[0.7280,3.79],[0.7312,4.64],[0.7445,4.48],[0.7485,3.81],
[0.7534,3.87],[0.7574,3.89],[0.7546,4.64],[0.7606,4.72],[0.7650,4.54],[0.7582,4.40],[0.7150,4.75],[0.7058,4.88],[0.7400,4.96],[0.6171,3.05],
[0.7787,4.72],[0.7803,4.57],[0.7884,5.00],[0.8093,4.44],[0.8061,4.26],[0.8190,4.49],[0.8291,4.30],[0.8214,5.01],[0.8254,4.91],[0.8452,4.96],
[0.8480,4.68],[0.8496,4.57],[0.8383,5.67],[0.8412,5.57],[0.8637,4.74],[0.8706,5.11],[0.8819,5.03],[0.8819,4.61],[0.8714,5.33],[0.8734,5.37],
[0.8827,5.28],[0.8880,5.49],[0.8924,5.51],[0.8908,5.33],[0.8940,5.25],[0.8932,5.21],[0.9008,5.69],[0.9041,5.12],[0.9198,5.00],[0.9226,5.13]
];

const svg = d3.select("#chart");

// Plot frame in pixels
const frame = {left: 140, top: 37, right: 1105, bottom: 659};
const x = d3.scaleLinear().domain([0, 1.1669]).range([frame.left, frame.right]);
const y = d3.scaleLinear().domain([0.583, 15.27]).range([frame.bottom, frame.top]);

// Canvas border with drop shadow
svg.append("path")
  .attr("d", "M22,738 L1126,738 L1126,9")
  .attr("fill", "none").attr("stroke", "#8a8a8a").attr("stroke-width", 3);
svg.append("rect")
  .attr("x", 18).attr("y", 5).attr("width", 1105).attr("height", 731)
  .attr("fill", "#fff").attr("stroke", "#000").attr("stroke-width", 2.2);
svg.append("line")
  .attr("x1", 0).attr("y1", 26).attr("x2", 17).attr("y2", 12)
  .attr("stroke", "#000").attr("stroke-width", 2).attr("stroke-dasharray", "5,3");

// Selection region: ellipse given in data coordinates
const ell = {cx: 0.592, cy: 6.73, ax: 0.5665, ay: 4.907, by: 3.176};
const angles = d3.range(0, 2 * Math.PI + 0.01, Math.PI / 90);
const ellLine = d3.line()
  .x(t => x(ell.cx + ell.ax * Math.cos(t)))
  .y(t => y(ell.cy + ell.ay * Math.cos(t) + ell.by * Math.sin(t)))
  .curve(d3.curveLinearClosed);
const plotClip = svg.append("clipPath").attr("id", "plotclip");
plotClip.append("rect").attr("x", frame.left).attr("y", frame.top)
  .attr("width", frame.right - frame.left).attr("height", frame.bottom - frame.top);
svg.append("path").attr("d", ellLine(angles))
  .attr("fill", "#dfebd5").attr("clip-path", "url(#plotclip)");

// Events
const allPoints = [].concat(pileupPoints, lowBandPoints, streakCores, clusterPoints, unitAmplitudePoints, spreadPoints, tailPoints);
svg.append("g").attr("clip-path", "url(#plotclip)")
  .selectAll("circle").data(allPoints).join("circle")
  .attr("cx", d => x(d[0])).attr("cy", d => y(d[1]))
  .attr("r", 1.6).attr("fill", "#121a0b");

// Axes (ticks drawn inward)
const fontSize = 24;
const xAxisMajor = d3.axisBottom(x).tickValues(xMajorTicks)
  .tickFormat((d, i) => xTickLabels[i]).tickSizeInner(-17).tickSizeOuter(0).tickPadding(7);
const xAxisMinor = d3.axisBottom(x).tickValues(xMinorTicks)
  .tickFormat("").tickSizeInner(-9).tickSizeOuter(0);
const yAxisMajor = d3.axisLeft(y).tickValues(yMajorTicks)
  .tickFormat((d, i) => yTickLabels[i]).tickSizeInner(-29).tickSizeOuter(0).tickPadding(5);
const yAxisMinor = d3.axisLeft(y).tickValues(yMinorTicks)
  .tickFormat("").tickSizeInner(-15).tickSizeOuter(0);

function styleAxis(g) {
  g.select(".domain").remove();
  g.selectAll(".tick line").attr("stroke", "#000").attr("stroke-width", 2);
  g.selectAll(".tick text").attr("font-size", fontSize)
    .attr("font-family", "'Liberation Sans', Arial, Helvetica, sans-serif").attr("fill", "#000");
}
svg.append("g").attr("transform", `translate(0,${frame.bottom})`).call(xAxisMinor).call(styleAxis);
svg.append("g").attr("transform", `translate(0,${frame.bottom})`).call(xAxisMajor).call(styleAxis);
svg.append("g").attr("transform", `translate(${frame.left},0)`).call(yAxisMinor).call(styleAxis);
const yg = svg.append("g").attr("transform", `translate(${frame.left},0)`).call(yAxisMajor).call(styleAxis);
yg.selectAll(".tick text").attr("dy", "0.48em");

svg.append("rect")
  .attr("x", frame.left).attr("y", frame.top)
  .attr("width", frame.right - frame.left).attr("height", frame.bottom - frame.top)
  .attr("fill", "none").attr("stroke", "#000").attr("stroke-width", 2);

// Axis titles
svg.append("text").attr("x", 1103).attr("y", 710).attr("text-anchor", "end")
  .attr("font-size", 24).attr("fill", "#000").text("Relative amplitude");
svg.append("text").attr("transform", "translate(83,37) rotate(-90)").attr("text-anchor", "end")
  .attr("font-size", 25).attr("fill", "#000").text("Fit RSS");
const mult = svg.append("text").attr("x", 140).attr("y", 35).attr("font-size", 23).attr("fill", "#000");
mult.append("tspan").text("\u00d710");
mult.append("tspan").attr("dy", -10).attr("font-size", 16).text("6");

// Annotation
const noteFont = "'Helvetica Neue', Roboto, Lato, 'Open Sans', sans-serif";
svg.append("text").attr("x", 257).attr("y", 305)
  .style("fill", "#78b04e").style("font-family", noteFont).style("font-weight", 300).style("font-size", "46px")
  .attr("textLength", 231).attr("lengthAdjust", "spacingAndGlyphs").text("good x-ray");
svg.append("text").attr("x", 257).attr("y", 364)
  .style("fill", "#78b04e").style("font-family", noteFont).style("font-weight", 300).style("font-size", "46px")
  .attr("textLength", 141).attr("lengthAdjust", "spacingAndGlyphs").text("events");

// Neighbouring panel peeking in at the bottom
svg.append("rect").attr("x", 211).attr("y", 717).attr("width", 607).attr("height", 40)
  .attr("fill", "#fff").attr("stroke", "#000").attr("stroke-width", 2.2);
svg.append("rect").attr("x", 280).attr("y", 726).attr("width", 532).attr("height", 30)
  .attr("fill", "none").attr("stroke", "#000").attr("stroke-width", 1.3);
svg.append("line").attr("x1", 280).attr("x2", 295).attr("y1", 735).attr("y2", 735)
  .attr("stroke", "#000").attr("stroke-width", 1.5);
svg.append("text").attr("x", 277).attr("y", 740).attr("text-anchor", "end")
  .attr("font-size", 13).attr("fill", "#000").text("300");
svg.append("text").attr("transform", "translate(237,723) rotate(-90)").attr("text-anchor", "end")
  .attr("font-size", 13).attr("fill", "#000").text("mV");
svg.append("rect").attr("x", 612).attr("y", 731).attr("width", 194).attr("height", 20)
  .attr("fill", "#fff").attr("stroke", "#000").attr("stroke-width", 1);
svg.append("text").attr("x", 709).attr("y", 744).attr("text-anchor", "middle")
  .attr("font-size", 13).attr("fill", "#000").text("Recorded pulse");
</script></body></html>
